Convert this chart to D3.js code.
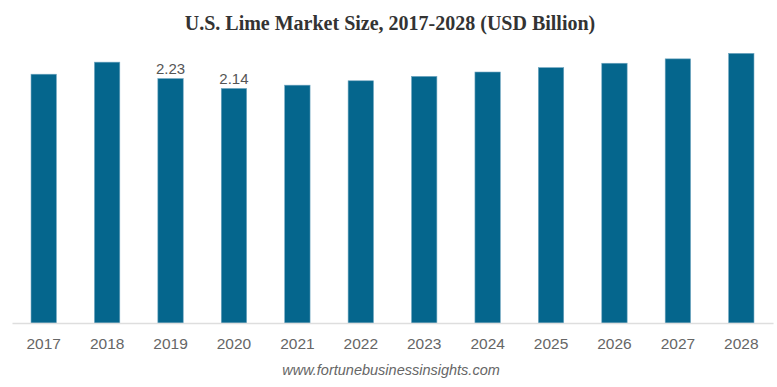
<!DOCTYPE html>
<html>
<head>
<meta charset="utf-8">
<script src="https://cdn.jsdelivr.net/npm/d3@7"></script>
<style>
  body { margin: 0; background: #fff; }
  svg { display: block; }
</style>
</head>
<body>
<svg class="barchart" width="777" height="387"></svg>
<script>
// values (USD billion)
let years = ['2017','2018','2019','2020','2021','2022','2023','2024','2025','2026','2027','2028'];
let marketSize = [2.27, 2.38, 2.23, 2.14, 2.17, 2.21, 2.25, 2.29, 2.33, 2.37, 2.41, 2.46];
// only these two bars carry a value label
let labelledYears = ['2019', '2020'];

let data = years.map((y, i) => ({year: y, num: marketSize[i]}));

let svg = d3.select("body").select(".barchart");

let margin = {
  top: 49,
  right: 4,
  bottom: 64,
  left: 12
};
let plotWidth = 777 - margin.left - margin.right;
let plotHeight = 387 - margin.top - margin.bottom;

let sizeYScale = d3.scaleLinear()
  .domain([0, 2.5])
  .range([plotHeight, 0]);

let yearXScale = d3.scaleBand()
  .domain(years)
  .range([0, plotWidth])
  .paddingInner(0.6)
  .paddingOuter(0.3);

let plot = svg.append("g").attr("id", "plot")
  .attr("transform", translate(margin.left, margin.top));

//title
svg.append("text")
  .attr("x", 390)
  .attr("y", 30)
  .attr("text-anchor", "middle")
  .style("font-family", "'Liberation Serif', 'Times New Roman', serif")
  .style("font-weight", "bold")
  .style("font-size", "20px")
  .style("fill", "#333")
  .text("U.S. Lime Market Size, 2017-2028 (USD Billion)");

//bars
plot.selectAll(".bar")
  .data(data)
  .enter().append("rect")
  .attr("class", "bar")
  .attr("x", d => yearXScale(d.year))
  .attr("width", yearXScale.bandwidth())
  .attr("y", d => sizeYScale(d.num))
  .attr("height", d => plotHeight - sizeYScale(d.num))
  .style("fill", "#05668d")
  .style("stroke", "#6fa6c0")
  .style("stroke-width", 0.6);

//value labels
plot.selectAll(".value")
  .data(data.filter(d => labelledYears.includes(d.year)))
  .enter().append("text")
  .attr("class", "value")
  .attr("x", d => yearXScale(d.year) + yearXScale.bandwidth() / 2)
  .attr("y", d => sizeYScale(d.num) - 4.5)
  .attr("text-anchor", "middle")
  .style("font-family", "'Liberation Sans', Arial, sans-serif")
  .style("font-size", "15px")
  .style("fill", "#555")
  .text(d => d.num.toFixed(2));

//x axis
let xAxis = d3.axisBottom(yearXScale).tickSize(0).tickPadding(15);
let xGroup = plot.append("g").attr("id", "x-axis")
  .attr("transform", translate(0, plotHeight))
  .call(xAxis);
xGroup.select(".domain")
  .attr("stroke", "#dedede")
  .attr("stroke-width", 1.5);
xGroup.selectAll("text")
  .style("font-family", "'Liberation Sans', Arial, sans-serif")
  .style("font-size", "15.5px")
  .style("fill", "#666");

//source
svg.append("text")
  .attr("x", 391)
  .attr("y", 375)
  .attr("text-anchor", "middle")
  .style("font-family", "'Liberation Sans', Arial, sans-serif")
  .style("font-style", "italic")
  .style("font-size", "14.5px")
  .style("fill", "#666")
  .text("www.fortunebusinessinsights.com");

function translate(x, y) {
  return 'translate(' + x + ',' + y + ')';
}
</script>
</body>
</html>
